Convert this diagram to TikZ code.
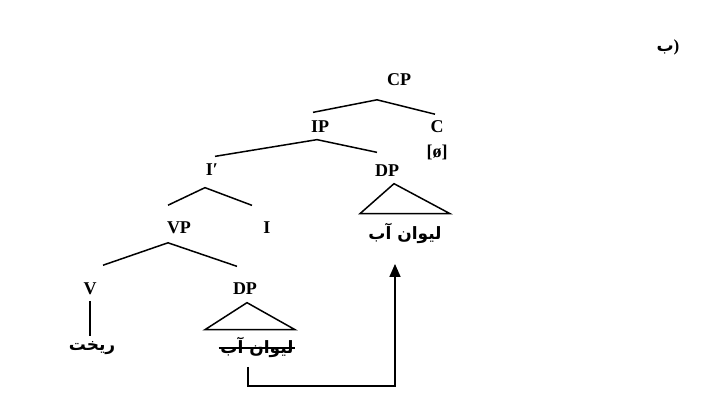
\documentclass[tikz,border=0pt]{standalone}
\usepackage{fontspec}
\setmainfont{Liberation Serif}
\newfontfamily\arabicfont[Script=Arabic]{DejaVu Sans}
\TeXXeTstate=1
\usetikzlibrary{arrows.meta}

\tikzset{x=1mm, y=1mm}
\tikzset{tag/.style={font=\bfseries\fontsize{18}{20}\selectfont, inner sep=1pt},
  word/.style={font=\arabicfont\bfseries\fontsize{17}{19}\selectfont, inner sep=1pt}}

\begin{document}
\begin{tikzpicture}[x=1pt,y=-1pt,line width=1.5pt]
\useasboundingbox (0,0) rectangle (716,400);
\foreach \n/\lab/\x/\y in {CP/CP/399/80, IP/IP/320/127, C/C/437/127,
  zero/[ø]/437/152, Ib/I′/212/170, DPa/DP/387/171, VP/VP/179/228,
  I/I/267/228, V/V/90/289, DPb/DP/245/289} % the categories
\node[tag] (\n) at (\x,\y) {\lab};

\node[word] (title) at (668,47) {ب{\normalfont\bfseries)}};
\node[word] (verb) at (92,348) {\beginR ریخت\endR};
\node[word] (obj) at (405,233) {\beginR لیوان آب\endR};
\node[word] (trace) at (257,347) {\beginR لیوان آب\endR};

% branches
\draw ([xshift=-7pt,yshift=7pt]IP.north) -- ([xshift=-22pt,yshift=-12pt]CP.south)
  -- ([xshift=-2pt,yshift=5pt]C.north);
\draw ([xshift=3pt,yshift=6pt]Ib.north) -- ([xshift=-3pt,yshift=-5pt]IP.south)
  -- ([xshift=-10pt,yshift=11pt]DPa.north);
\draw ([xshift=-11pt,yshift=15pt]VP.north) -- ([xshift=-7pt,yshift=-10pt]Ib.south)
  -- ([xshift=-15pt,yshift=15pt]I.north);
\draw ([xshift=13pt,yshift=16pt]V.north) -- ([xshift=-11pt,yshift=-7pt]VP.south)
  -- ([xshift=-8pt,yshift=15pt]DPb.north);
\draw ([yshift=-4pt]V.south) -- ++(0,35);

% triangles
\draw ([xshift=7pt,yshift=-5pt]DPa.south) -- ++(-34,30) -- ++(90,0) -- cycle;
\draw ([xshift=2pt,yshift=-6pt]DPb.south) -- ++(-42,27) -- ++(90,0) -- cycle;

% strike and movement
\draw ([yshift=-1pt]trace.west) -- ([yshift=-1pt]trace.east);
\draw[-{Triangle[width=11pt,length=13pt]}] ([xshift=-9pt,yshift=-8pt]trace.south)
  -- ++(0,19) -| ([xshift=-10pt,yshift=-19pt]obj.south);
\end{tikzpicture}
\end{document}
